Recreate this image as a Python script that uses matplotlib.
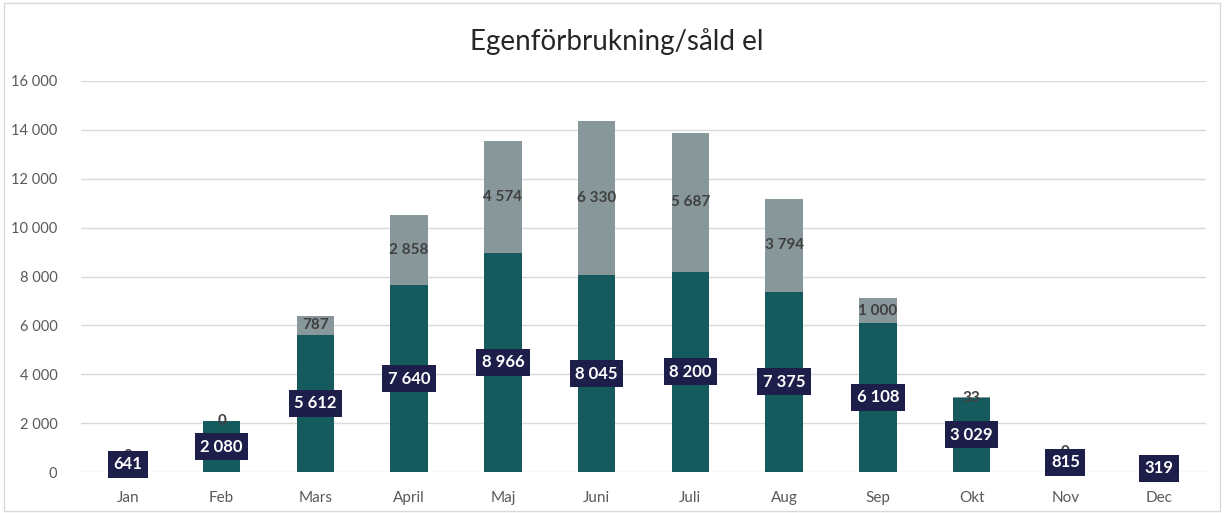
import matplotlib
matplotlib.use("Agg")
import matplotlib.pyplot as plt
from matplotlib.ticker import FuncFormatter
from matplotlib.patches import Rectangle

months = ["Jan", "Feb", "Mars", "April", "Maj", "Juni", "Juli", "Aug", "Sep", "Okt", "Nov", "Dec"]
egen = [641, 2080, 5612, 7640, 8966, 8045, 8200, 7375, 6108, 3029, 815, 319]
sald = [0, 0, 787, 2858, 4574, 6330, 5687, 3794, 1000, 33, 0, 0]
yticks = [0, 2000, 4000, 6000, 8000, 10000, 12000, 14000, 16000]

plt.rcParams['font.family'] = ['Lato', 'DejaVu Sans']

c_egen = "#155a5c"
c_sald = "#87979a"
c_box = "#1e1e4b"

fig = plt.figure(figsize=(12.24, 5.13), dpi=100)
ax = fig.add_axes([81/1224, 1-472/513, (1206-81)/1224, (472-81)/513])

x = list(range(len(months)))
ax.bar(x, egen, width=0.4, color=c_egen, zorder=2)
ax.bar(x, sald, width=0.4, bottom=egen, color=c_sald, zorder=2)

def fmt(v):
    return f"{int(v):,}".replace(",", " ")

for i in x:
    ax.text(i, egen[i] + sald[i] / 2, fmt(sald[i]), ha="center", va="center",
            fontsize=11, fontweight="bold", color="#404040", zorder=3)
    ax.text(i, egen[i] / 2, fmt(egen[i]), ha="center", va="center",
            fontsize=12, fontweight="bold", color="white", zorder=4,
            bbox=dict(boxstyle="square,pad=0.33", facecolor=c_box, edgecolor="none"))

ax.set_ylim(0, 16000)
ax.set_xlim(-0.5, len(months) - 0.5)
ax.set_yticks(yticks)
ax.yaxis.set_major_formatter(FuncFormatter(lambda v, p: fmt(v)))
ax.set_xticks(x)
ax.set_xticklabels(months)
ax.tick_params(axis="both", length=0, labelsize=11, colors="#595959")
ax.tick_params(axis="y", labelsize=10.5, pad=17)
ax.tick_params(axis="x", pad=14)
ax.grid(axis="y", color="#d9d9d9", linewidth=1, zorder=0)
for s in ax.spines.values():
    s.set_visible(False)

fig.text(617/1224, 1-42/513, "Egenförbrukning/såld el", ha="center", va="center",
         fontsize=20, color="#262626")

fig.patches.append(Rectangle((4/1224, 2/513), 1216/1224, 508/513, transform=fig.transFigure,
                             fill=False, edgecolor="#d9d9d9", linewidth=1))

fig.savefig("out.png", dpi=100)
